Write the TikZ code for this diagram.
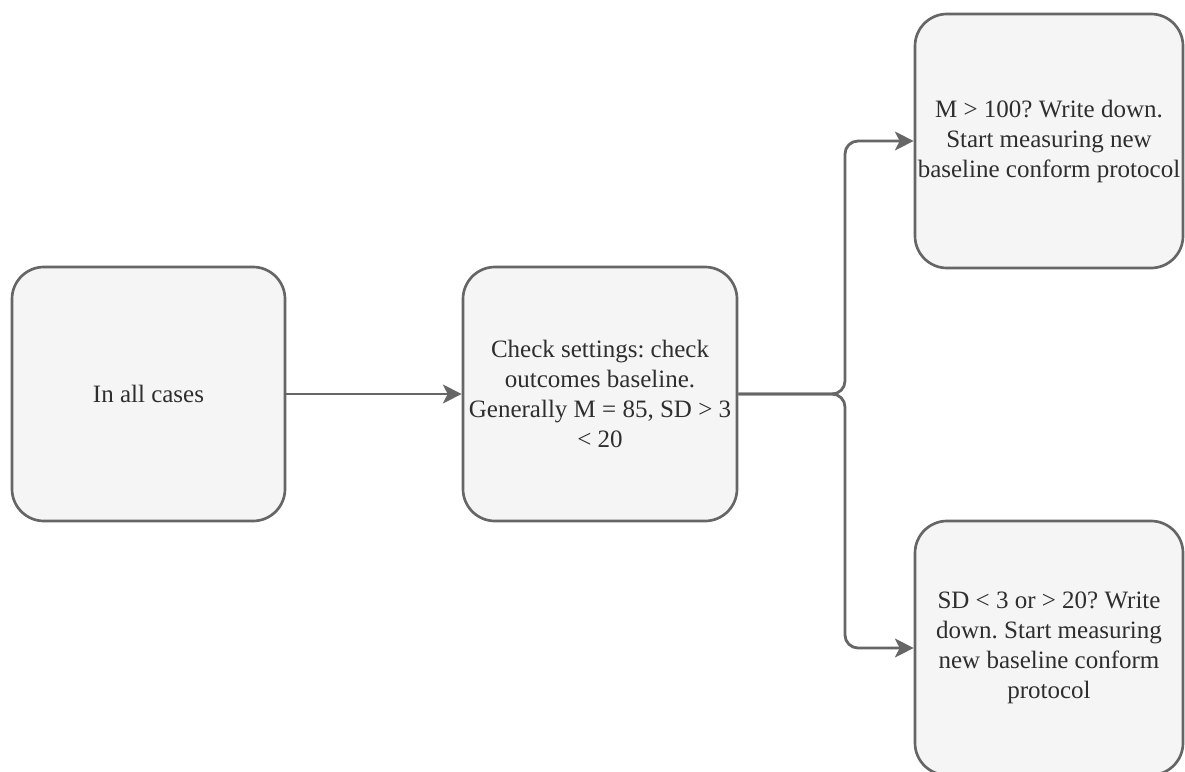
\documentclass[tikz,border=0pt]{standalone}
\usepackage{fontspec}
\setmainfont{Liberation Serif}
\frenchspacing
\usetikzlibrary{arrows.meta}
\definecolor{boxline}{HTML}{666666}
\definecolor{boxfill}{HTML}{F5F5F5}
\definecolor{boxtext}{HTML}{2E2E2E}
\begin{document}
\begin{tikzpicture}[x=0.75pt,y=-0.75pt,
  card/.style={draw=boxline,fill=boxfill,line width=2pt,rounded corners=24pt,
    minimum height=190.5pt,inner sep=0pt,align=center,text=boxtext,
    font=\fontsize{18.75pt}{22.5pt}\selectfont},
  conn/.style={draw=boxline,line width=2.1pt,rounded corners=9.75pt,
    -{Stealth[length=14pt,width=14pt,inset=3.5pt]}}]
\clip (0,0) rectangle (1185,771);
\fill[white] (0,0) rectangle (1185,771);
\node[card,minimum width=204.75pt] (a) at (148.5,394) {In all cases};
\node[card,minimum width=205.5pt] (b) at (600,394) {Check settings: check\\outcomes baseline.\\Generally M = 85, SD > 3\\< 20};
\node[card,minimum width=201pt] (c) at (1049,141) {M > 100? Write down.\\Start measuring new\\baseline conform protocol};
\node[card,minimum width=201pt] (d) at (1049,648) {SD < 3 or > 20? Write\\down. Start measuring\\new baseline conform\\protocol};
\coordinate (j) at (845,394);
\draw[conn] (a) -- (b);
\draw[conn] (b.east) -- (j) |- (c.west);
\draw[conn] (b.east) -- (j) |- (d.west);
\end{tikzpicture}
\end{document}
